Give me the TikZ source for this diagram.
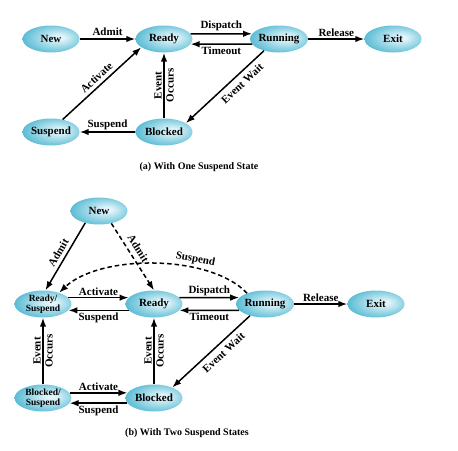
\documentclass[tikz,border=0pt]{standalone}
\usepackage{fontspec}
\setmainfont{Liberation Serif}
\usetikzlibrary{arrows.meta,shapes.geometric}
\definecolor{ellin}{RGB}{225,245,250}
\definecolor{ellout}{RGB}{72,180,207}
\pgfdeclareradialshading{ellshade}{\pgfpoint{8bp}{3bp}}{color(0bp)=(ellin); color(4bp)=(ellin); color(32bp)=(ellout); color(50bp)=(ellout)}
\begin{document}
\begin{tikzpicture}[x=1pt,y=-1pt,
  state/.style={ellipse, shading=ellshade, minimum width=57pt, minimum height=27pt, inner sep=0pt, font=\bfseries\fontsize{11}{12}\selectfont},
  statetwo/.style={state, font=\bfseries\fontsize{9.5}{10}\selectfont, align=center, inner sep=-2pt},
  arr/.style={line width=1.5pt, -{Latex[length=9pt,width=6.5pt]}},
  darr/.style={arr, dash pattern=on 4.5pt off 3pt},
  lbl/.style={font=\bfseries\fontsize{11}{12}\selectfont, inner sep=1.5pt},
  captext/.style={font=\bfseries\fontsize{10}{12}\selectfont}]
\useasboundingbox (0,0) rectangle (458,450);
% (a)
\node[state] (new) at (51,39) {New};
\node[state] (ready) at (164,39) {Ready};
\node[state] (running) at (279,39) {Running};
\node[state] (exit) at (393,39) {Exit};
\node[state] (suspend) at (51,132) {Suspend};
\node[state] (blocked) at (164,132) {Blocked};
\draw[arr] (new) -- node[lbl, above=1pt] {Admit} (ready);
\draw[arr] (ready.11) -- node[lbl, above=1pt] {Dispatch} (running.169);
\draw[arr] (running.191) -- node[lbl, below] {Timeout} (ready.349);
\draw[arr] (running) -- node[lbl, above] {Release} (exit);
\draw[arr] (running.218) -- node[lbl, pos=0.36, sloped, below=3pt] {Event Wait} (blocked.22);
\draw[arr] (blocked.north) -- node[lbl, rotate=90, anchor=south] {Event} node[lbl, rotate=90, anchor=north] {Occurs} (ready.south);
\draw[arr] (blocked) -- node[lbl, above] {Suspend} (suspend);
\draw[arr] (suspend.47) -- node[lbl, sloped, above=2pt] {Activate} (ready.200);
\node[captext] (capa) at (199,167) {(a) With One Suspend State};
% (b)
\node[state] (new2) at (99,211) {New};
\node[statetwo] (rs) at (43,304) {Ready/\\Suspend};
\node[state] (ready2) at (154,304) {Ready};
\node[state] (running2) at (265,304) {Running};
\node[state] (exit2) at (376,304) {Exit};
\node[statetwo] (bs) at (43,398) {Blocked/\\Suspend};
\node[state] (blocked2) at (154,398) {Blocked};
\draw[arr] (new2.221) -- node[lbl, sloped, above=2pt] {Admit} (rs.80);
\draw[darr] (new2.315) -- node[lbl, pos=0.45, sloped, above=3pt] {Admit} (ready2.north);
\draw[darr] (running2.149) .. controls (210,254) and (100,254) .. node[lbl, pos=0.32, sloped, above=1pt] {Suspend} (rs.35);
\draw[arr] (rs.14) -- node[lbl, above] {Activate} (ready2.166);
\draw[arr] (ready2.194) -- node[lbl, below] {Suspend} (rs.346);
\draw[arr] (ready2.14) -- node[lbl, above] {Dispatch} (running2.166);
\draw[arr] (running2.194) -- node[lbl, below] {Timeout} (ready2.346);
\draw[arr] (running2) -- node[lbl, above] {Release} (exit2);
\draw[arr] (running2.218) -- node[lbl, pos=0.42, sloped, below=3pt] {Event Wait} (blocked2.30);
\draw[arr] (blocked2.north) -- node[lbl, rotate=90, anchor=south] {Event} node[lbl, rotate=90, anchor=north] {Occurs} (ready2.south);
\draw[arr] (bs.north) -- node[lbl, rotate=90, anchor=south] {Event} node[lbl, rotate=90, anchor=north] {Occurs} (rs.south);
\draw[arr] (bs.11) -- node[lbl, above] {Activate} (blocked2.169);
\draw[arr] (blocked2.191) -- node[lbl, below] {Suspend} (bs.349);
\node[captext] (capb) at (187,433) {(b) With Two Suspend States};
\end{tikzpicture}
\end{document}
